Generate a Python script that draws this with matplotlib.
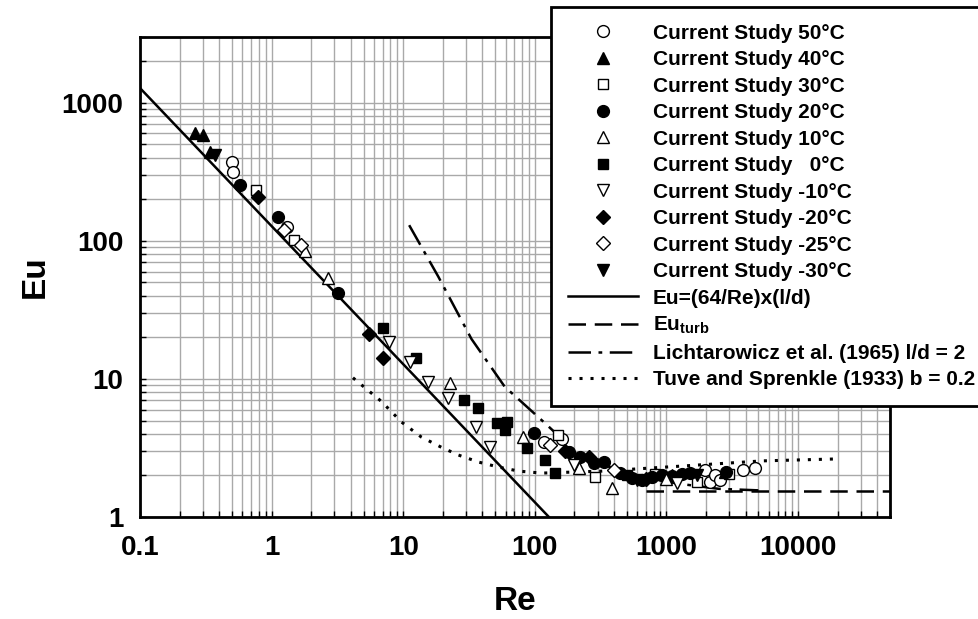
import matplotlib
matplotlib.use("Agg")
import matplotlib.pyplot as plt
from matplotlib.ticker import LogLocator, FuncFormatter, NullFormatter

plt.rcParams["font.family"] = ["Liberation Sans", "DejaVu Sans"]
plt.rcParams["font.weight"] = "bold"
plt.rcParams["mathtext.fontset"] = "custom"
plt.rcParams["mathtext.bf"] = "Liberation Sans:bold"
plt.rcParams["mathtext.rm"] = "Liberation Sans:bold"
plt.rcParams["mathtext.default"] = "bf"

# ---- measured data: Reynolds number and Euler number per test temperature ----
re_50 = [0.50, 0.51, 1.32, 118, 160, 1950, 2130, 2320, 2540, 3800, 4700]
eu_50 = [374, 316, 126, 3.5, 3.7, 2.19, 1.79, 2.01, 1.85, 2.19, 2.26]

re_40 = [0.26, 0.30, 0.34, 1100, 2800]
eu_40 = [606, 587, 442, 2.0, 2.12]

re_30 = [0.755, 1.47, 150, 287, 820, 1700, 3000]
eu_30 = [234, 102, 3.9, 1.95, 2.05, 1.78, 2.05]

re_20 = [0.58, 1.11, 3.2, 98, 182, 221, 282, 336, 446, 550, 656, 782, 933, 1110, 1325, 1500, 2820]
eu_20 = [255, 149, 42, 4.06, 2.96, 2.72, 2.46, 2.50, 2.08, 1.92, 1.85, 1.95, 2.0, 1.98, 2.05, 2.1, 2.12]

re_10 = [1.8, 2.67, 22.5, 82, 215, 387, 1000]
eu_10 = [85, 54, 9.35, 3.8, 2.26, 1.62, 1.9]

re_0 = [7.0, 12.6, 29, 37, 51.5, 61, 59, 87, 119, 142, 500]
eu_0 = [23.4, 14.2, 7.0, 6.2, 4.8, 4.85, 4.27, 3.16, 2.59, 2.08, 2.0]

re_m10 = [7.8, 11.2, 15.5, 22, 36, 46, 200, 1200]
eu_m10 = [18.6, 13.3, 9.5, 7.3, 4.5, 3.2, 2.4, 1.75]

re_m20 = [0.79, 5.5, 7.0, 170, 260, 700]
eu_m20 = [208, 21, 14.2, 3.0, 2.7, 1.9]

re_m25 = [1.25, 1.66, 130, 400]
eu_m25 = [120, 93.5, 3.3, 2.2]

re_m30 = [0.37, 600, 1700]
eu_m30 = [420, 1.85, 2.0]

# ---- correlation curves ----
re_lam = [0.1, 128]
eu_lam = [1280, 1]

re_turb = [700, 50000]
eu_turb = [1.55, 1.55]

re_licht = [11.1, 18.5, 33, 59, 119, 202, 350, 600, 1200, 2500, 5000]
eu_licht = [130, 55, 19.5, 8.8, 4.8, 3.0, 2.35, 1.98, 1.75, 1.6, 1.56]

re_tuve = [4.15, 6.8, 9.7, 13.7, 19.5, 26.3, 37.4, 53, 75.5, 113, 324, 1320, 5370, 18500]
eu_tuve = [10.2, 6.9, 4.88, 3.8, 3.2, 2.81, 2.5, 2.30, 2.15, 2.08, 2.15, 2.34, 2.55, 2.63]

labels = [
    "Current Study 50°C", "Current Study 40°C", "Current Study 30°C",
    "Current Study 20°C", "Current Study 10°C", "Current Study   0°C",
    "Current Study -10°C", "Current Study -20°C", "Current Study -25°C",
    "Current Study -30°C", "Eu=(64/Re)x(l/d)", r"Eu$_{turb}$",
    "Lichtarowicz et al. (1965) l/d = 2", "Tuve and Sprenkle (1933) b = 0.2",
]

series = [
    (re_50, eu_50, "o", "white", 8.5),
    (re_40, eu_40, "^", "black", 8.5),
    (re_30, eu_30, "s", "white", 7.5),
    (re_20, eu_20, "o", "black", 8.5),
    (re_10, eu_10, "^", "white", 8.5),
    (re_0, eu_0, "s", "black", 7.5),
    (re_m10, eu_m10, "v", "white", 8.5),
    (re_m20, eu_m20, "D", "black", 7),
    (re_m25, eu_m25, "D", "white", 7),
    (re_m30, eu_m30, "v", "black", 8.5),
]

fig = plt.figure(figsize=(9.79, 6.19), dpi=100)
ax = fig.add_axes([140 / 979, 1 - 517 / 619, 750 / 979, 480 / 619])
ax.set_xscale("log")
ax.set_yscale("log")
ax.set_xlim(0.1, 50000)
ax.set_ylim(1, 3000)

handles = []
for re, eu, mk, face, ms in series:
    h, = ax.plot(re, eu, linestyle="none", marker=mk, markersize=ms,
                 markerfacecolor=face, markeredgecolor="black",
                 markeredgewidth=1.0, zorder=4)
    handles.append(h)

h, = ax.plot(re_lam, eu_lam, color="black", lw=1.8, zorder=3)
handles.append(h)
h, = ax.plot(re_turb, eu_turb, color="black", lw=1.8, linestyle=(0, (7, 3.5)), zorder=3)
handles.append(h)
h, = ax.plot(re_licht, eu_licht, color="black", lw=1.8, linestyle=(0, (9, 3, 1.5, 3)), zorder=3)
handles.append(h)
h, = ax.plot(re_tuve, eu_tuve, color="black", lw=2.2, linestyle=(0, (1, 2.6)), zorder=3)
handles.append(h)

for axis in (ax.xaxis, ax.yaxis):
    axis.set_major_locator(LogLocator(base=10, numticks=12))
    axis.set_minor_locator(LogLocator(base=10, subs=range(2, 10), numticks=12))
    axis.set_major_formatter(FuncFormatter(lambda v, _: f"{v:g}"))
    axis.set_minor_formatter(NullFormatter())

ax.grid(True, which="both", color="#a9a9a9", lw=1.0)
ax.set_axisbelow(True)
ax.tick_params(which="both", direction="in", length=4, width=1, top=False, right=False)
ax.tick_params(which="major", labelsize=20)
ax.tick_params(axis="x", which="major", pad=13)
ax.tick_params(axis="y", which="major", pad=12)
for lab in ax.get_xticklabels() + ax.get_yticklabels():
    lab.set_fontweight("bold")
for sp in ax.spines.values():
    sp.set_linewidth(2)
    sp.set_color("black")

ax.set_xlabel("Re", fontsize=24, fontweight="bold", labelpad=18)
ax.set_ylabel("Eu", fontsize=24, fontweight="bold", labelpad=8)

leg = fig.legend(handles, labels, loc="upper left",
                 bbox_to_anchor=(551 / 979, 1 - 7 / 619),
                 bbox_transform=fig.transFigure, borderaxespad=0,
                 frameon=True, fancybox=False, edgecolor="black",
                 framealpha=1, prop={"weight": "bold", "size": 15},
                 handlelength=3.4, handletextpad=0.7, labelspacing=0.36,
                 borderpad=0.8)
leg.get_frame().set_linewidth(2)

fig.savefig("out.png", dpi=100)
